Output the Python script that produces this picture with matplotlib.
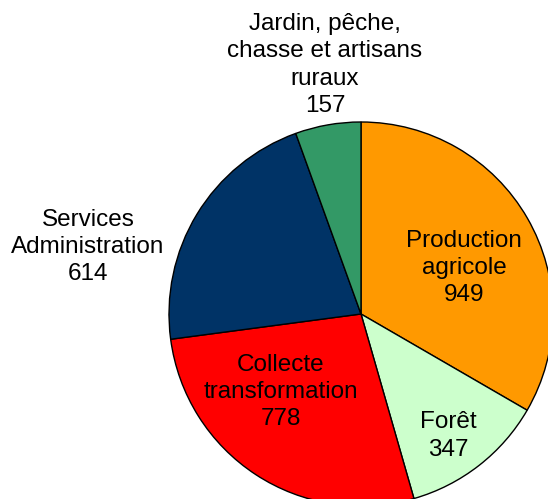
import matplotlib.pyplot as plt

labels = ['Production\nagricole', 'Forêt', 'Collecte\ntransformation',
          'Services\nAdministration', 'Jardin, pêche,\nchasse et artisans\nruraux']
values = [949, 347, 778, 614, 157]
colors = ['#FF9900', '#CCFFCC', '#FF0000', '#003366', '#339966']

# label positions in pixels (x, y from top)
label_px = [(464, 268), (448, 436), (281, 392), (88, 247), (325, 65)]

W, H = 548, 499
cx, cy, r = 361, 314, 192

plt.rcParams['font.family'] = ['Liberation Sans', 'DejaVu Sans']
fig = plt.figure(figsize=(W / 100, H / 100), dpi=100)
ax = fig.add_axes([0, 0, 1, 1])

ax.pie(values, colors=colors, startangle=90, counterclock=False,
       wedgeprops=dict(edgecolor='black', linewidth=1.0))

for lab, val, (px, py) in zip(labels, values, label_px):
    ax.text((px - cx) / r, (cy - py) / r, f'{lab}\n{val}', ha='center', va='center',
            fontsize=17.5, color='black', linespacing=1.3, clip_on=False)

ax.set_xlim(-cx / r, (W - cx) / r)
ax.set_ylim(-(H - cy) / r, cy / r)
ax.set_aspect('equal')
ax.axis('off')

fig.savefig('out.png', dpi=100)
